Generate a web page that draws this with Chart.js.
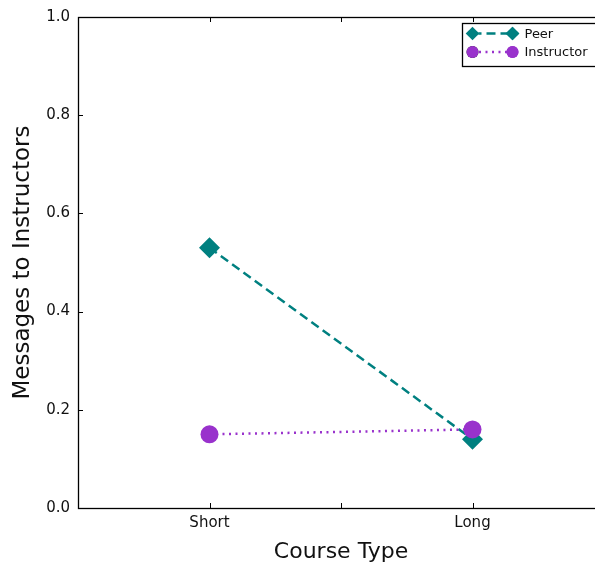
<!DOCTYPE html>
<html>
<head>
<meta charset="utf-8">
<script src="https://cdn.jsdelivr.net/npm/chart.js@4/dist/chart.umd.min.js"></script>
<style>
  html, body { margin: 0; padding: 0; background: #fff; overflow: hidden; }
  #wrap { width: 620px; height: 567px; }
</style>
</head>
<body>
<div id="wrap"><canvas id="myChart" width="620" height="567"></canvas></div>
<script>
/* global Chart */

// categories on the x axis
const courseTypes = ['Short', 'Long'];
// messages to instructors, per series
const peerValues = [0.53, 0.14];
const instructorValues = [0.15, 0.16];
// y tick labels
const yTicks = [0.0, 0.2, 0.4, 0.6, 0.8, 1.0];

const FONT = '"DejaVu Sans", sans-serif';

// matplotlib-style frame with inward ticks on all four sides
const framePlugin = {
  id: 'frame',
  afterDraw(chart) {
    const { ctx, chartArea: a, scales } = chart;
    const x = scales.x, y = scales.y;
    ctx.save();
    ctx.strokeStyle = '#000';
    ctx.lineWidth = 1;
    const t = 5;
    ctx.beginPath();
    yTicks.forEach(v => {
      const py = Math.round(y.getPixelForValue(v)) + 0.5;
      ctx.moveTo(a.left, py); ctx.lineTo(a.left + t, py);
      ctx.moveTo(a.right, py); ctx.lineTo(a.right - t, py);
    });
    [0, 0.5, 1].forEach(d => {
      const px = Math.round(x.getPixelForValue(0) + d * (x.getPixelForValue(1) - x.getPixelForValue(0))) + 0.5;
      ctx.moveTo(px, a.bottom); ctx.lineTo(px, a.bottom - t);
      ctx.moveTo(px, a.top); ctx.lineTo(px, a.top + t);
    });
    ctx.stroke();
    ctx.lineWidth = 1.3;
    ctx.strokeRect(Math.round(a.left) + 0.5, Math.round(a.top) + 0.5,
      Math.round(a.right - a.left), Math.round(a.bottom - a.top));
    ctx.restore();
  }
};

// boxed legend with two markers per entry like matplotlib
const legendPlugin = {
  id: 'boxLegend',
  afterDraw(chart) {
    const { ctx } = chart;
    const bx = 462.5, by = 23.5, bw = 150, bh = 43;
    ctx.save();
    ctx.fillStyle = '#fff';
    ctx.fillRect(bx, by, bw, bh);
    ctx.strokeStyle = '#000';
    ctx.lineWidth = 1.3;
    ctx.strokeRect(bx, by, bw, bh);
    chart.data.datasets.forEach((ds, i) => {
      const cy = by + 10 + i * 18.5;
      const x0 = bx + 10, x1 = bx + 50;
      ctx.strokeStyle = ds.borderColor;
      ctx.lineWidth = ds.borderWidth;
      ctx.setLineDash(ds.borderDash);
      ctx.beginPath();
      ctx.moveTo(x0, cy); ctx.lineTo(x1, cy);
      ctx.stroke();
      ctx.setLineDash([]);
      const r = ds.pointStyle === 'circle' ? 6 : 6.8;
      [x0, x1].forEach(px => {
        Chart.helpers.drawPoint(ctx, { pointStyle: ds.pointStyle, radius: r, borderWidth: 0, rotation: 0 }, px, cy);
        ctx.fillStyle = ds.pointBackgroundColor;
        ctx.fill();
      });
      ctx.fillStyle = '#111';
      ctx.font = '13px ' + FONT;
      ctx.textBaseline = 'middle';
      ctx.fillText(ds.label, x1 + 12, cy + 1);
    });
    ctx.restore();
  }
};

new Chart(document.getElementById('myChart').getContext('2d'), {
  type: 'line',
  data: {
    labels: courseTypes,
    datasets: [{
      label: 'Peer',
      data: peerValues,
      borderColor: '#008080',
      backgroundColor: '#008080',
      pointBackgroundColor: '#008080',
      pointBorderWidth: 0,
      borderWidth: 2.5,
      borderDash: [9, 5],
      pointStyle: 'rectRot',
      pointRadius: 10.5,
      order: 2,
    }, {
      label: 'Instructor',
      data: instructorValues,
      borderColor: '#9932CC',
      backgroundColor: '#9932CC',
      pointBackgroundColor: '#9932CC',
      pointBorderWidth: 0,
      borderWidth: 2.5,
      borderDash: [2, 4.5],
      pointStyle: 'circle',
      pointRadius: 9,
      order: 1,
    }]
  },
  options: {
    responsive: false,
    animation: false,
    layout: { padding: { top: 17, right: 16, left: 0, bottom: 0 } },
    plugins: { legend: { display: false }, tooltip: { enabled: false } },
    scales: {
      x: {
        type: 'category',
        offset: true,
        grid: { display: false, drawTicks: false },
        border: { display: false },
        ticks: { color: '#111', font: { family: FONT, size: 15 }, padding: 6 },
        title: { display: true, text: 'Course Type', color: '#111', font: { family: FONT, size: 22 }, padding: { top: 2, bottom: 2 } },
        afterFit(scale) { scale.height = 59; }
      },
      y: {
        min: 0,
        max: 1,
        grid: { display: false, drawTicks: false },
        border: { display: false },
        afterBuildTicks(scale) { scale.ticks = yTicks.map(v => ({ value: v })); },
        ticks: { color: '#111', font: { family: FONT, size: 15 }, padding: 8, callback: v => v.toFixed(1) },
        title: { display: true, text: 'Messages to Instructors', color: '#111', font: { family: FONT, size: 23 }, padding: { top: 9, bottom: 6 } },
        afterFit(scale) { scale.width = 78; }
      }
    }
  },
  plugins: [framePlugin, legendPlugin]
});
</script>
</body>
</html>
